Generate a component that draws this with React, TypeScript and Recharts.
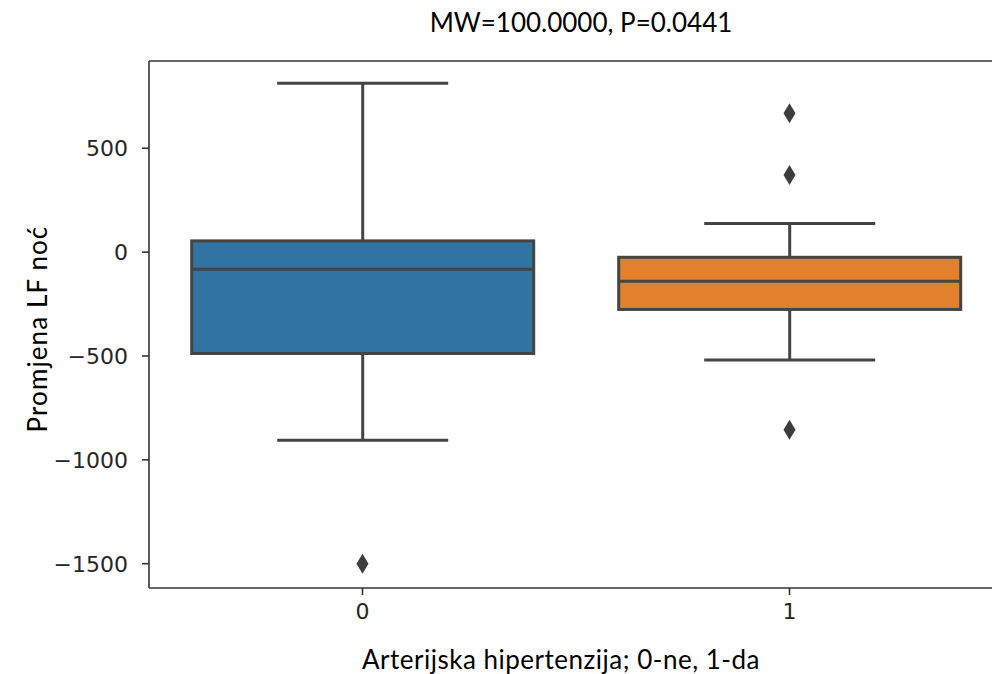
import React from 'react'
import {
  ComposedChart,
  Bar,
  Line,
  XAxis,
  YAxis,
  ReferenceLine,
} from 'recharts'

// groups on the x axis
const groups = ['0', '1']

// box statistics
const whiskerHigh = [813, 138]
const q3 = [54, -25]
const median = [-82, -140]
const q1 = [-488, -276]
const whiskerLow = [-906, -520]

// fliers per group
const outliers = [[-1500], [668, 371, -855]]

const boxColors = ['#3274a1', '#e1812c']

const yTicks = [-1500, -1000, -500, 0, 500]
const yMin = -1617
const yMax = 920

const lineColor = '#444444'
const spineColor = '#333333'

const data = groups.map((g, i) => ({
  group: g,
  box: [q1[i], q3[i]],
  q1: q1[i],
  q3: q3[i],
  median: median[i],
  whiskerLow: whiskerLow[i],
  whiskerHigh: whiskerHigh[i],
  out1: outliers[i][0] ?? null,
  out2: outliers[i][1] ?? null,
  out3: outliers[i][2] ?? null,
}))

const BoxShape = (props: any) => {
  const { x, y, width, height, payload, index } = props
  const top = Math.min(y, y + height)
  const h = Math.abs(height)
  // pixels per unit, taken from the bar the library already scaled
  const k = h / (payload.q3 - payload.q1)
  const yOf = (v: number) => top + (payload.q3 - v) * k
  const cx = x + width / 2
  const capHalf = width / 4
  return (
    <g>
      <line x1={cx} x2={cx} y1={yOf(payload.whiskerHigh)} y2={top} stroke={lineColor} strokeWidth={3} />
      <line x1={cx} x2={cx} y1={top + h} y2={yOf(payload.whiskerLow)} stroke={lineColor} strokeWidth={3} />
      <line x1={cx - capHalf} x2={cx + capHalf} y1={yOf(payload.whiskerHigh)} y2={yOf(payload.whiskerHigh)} stroke={lineColor} strokeWidth={3} />
      <line x1={cx - capHalf} x2={cx + capHalf} y1={yOf(payload.whiskerLow)} y2={yOf(payload.whiskerLow)} stroke={lineColor} strokeWidth={3} />
      <rect x={x} y={top} width={width} height={h} fill={boxColors[index]} stroke={lineColor} strokeWidth={3} />
      <line x1={x} x2={x + width} y1={yOf(payload.median)} y2={yOf(payload.median)} stroke={lineColor} strokeWidth={3} />
    </g>
  )
}

const Diamond = (props: any) => {
  const { cx, cy, key, value } = props
  if (cy == null || value == null || isNaN(cy)) return <g key={key} />
  return (
    <path
      key={key}
      d={`M${cx},${cy - 10} L${cx + 6},${cy} L${cx},${cy + 10} L${cx - 6},${cy} Z`}
      fill="#3d3d3d"
    />
  )
}

const fmt = (v: number) => (v < 0 ? '\u2212' + Math.abs(v) : String(v))

const labelFont = 'Lato, "Open Sans", sans-serif'
const tickFont = '"DejaVu Sans", sans-serif'

export default function App() {
  return (
    <div
      style={{
        position: 'relative',
        width: 992,
        height: 674,
        overflow: 'hidden',
        background: '#fff',
      }}
    >
      <style>{'html,body{margin:0;padding:0;overflow:hidden}'}</style>
      <div
        style={{
          position: 'absolute',
          left: 0,
          width: 1162,
          top: 6,
          textAlign: 'center',
          fontFamily: labelFont,
          fontSize: 26,
          color: '#000',
        }}
      >
        MW=100.0000, P=0.0441
      </div>
      <ComposedChart
        width={1020}
        height={674}
        data={data}
        margin={{ top: 61, right: 17, bottom: 56, left: 0 }}
        barCategoryGap="10%"
      >
        <XAxis
          dataKey="group"
          tick={{ fontSize: 22, fontFamily: tickFont, fill: '#262626' }}
          tickSize={7}
          tickMargin={8}
          axisLine={{ stroke: spineColor, strokeWidth: 1.6 }}
          tickLine={{ stroke: spineColor, strokeWidth: 1.6 }}
          label={{
            content: () => (
              <text
                x={561}
                y={669}
                textAnchor="middle"
                fontSize={26}
                fontFamily={labelFont}
                letterSpacing={0.5}
                fill="#000"
              >
                Arterijska hipertenzija; 0-ne, 1-da
              </text>
            ),
          }}
        />
        <YAxis
          width={149}
          domain={[yMin, yMax]}
          ticks={yTicks}
          interval={0}
          allowDataOverflow
          tickFormatter={fmt}
          tick={{ fontSize: 22, fontFamily: tickFont, fill: '#262626' }}
          tickSize={7}
          tickMargin={14}
          axisLine={{ stroke: spineColor, strokeWidth: 1.6 }}
          tickLine={{ stroke: spineColor, strokeWidth: 1.6 }}
          label={{
            content: () => (
              <text
                x={47}
                y={329}
                transform="rotate(-90 47 329)"
                textAnchor="middle"
                fontSize={26}
                fontFamily={labelFont}
                letterSpacing={1.1}
                fill="#000"
              >
                Promjena LF noć
              </text>
            ),
          }}
        />
        <ReferenceLine y={yMax} stroke={spineColor} strokeWidth={1.6} />
        <Bar dataKey="box" shape={BoxShape} isAnimationActive={false} />
        <Line dataKey="out1" stroke="none" dot={Diamond} activeDot={false} isAnimationActive={false} />
        <Line dataKey="out2" stroke="none" dot={Diamond} activeDot={false} isAnimationActive={false} />
        <Line dataKey="out3" stroke="none" dot={Diamond} activeDot={false} isAnimationActive={false} />
      </ComposedChart>
    </div>
  )
}
